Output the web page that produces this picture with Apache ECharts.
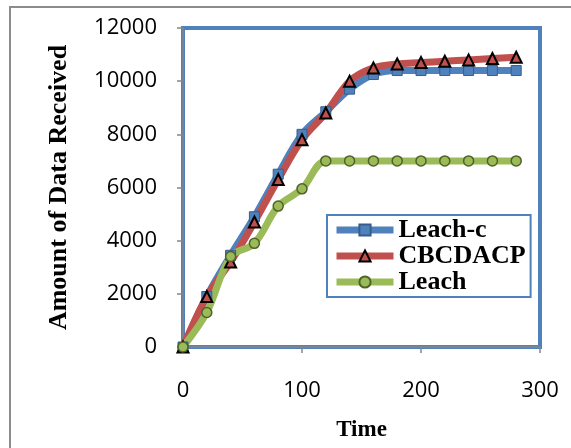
<!DOCTYPE html>
<html>
<head>
<meta charset="utf-8">
<script src="https://cdn.jsdelivr.net/npm/echarts@6/dist/echarts.min.js"></script>
<style>
  html, body { margin: 0; padding: 0; background: #fff; }
  #chart { width: 571px; height: 448px; }
</style>
</head>
<body>
<div id="chart"></div>
<script>
// values
var time = [0, 20, 40, 60, 80, 100, 120, 140, 160, 180, 200, 220, 240, 260, 280];
var leachC = [0, 1900, 3450, 4900, 6500, 8000, 8850, 9700, 10250, 10400, 10400, 10400, 10400, 10400, 10400];
var cbcdacp = [0, 1900, 3200, 4700, 6300, 7800, 8800, 10000, 10500, 10650, 10700, 10750, 10800, 10850, 10900];
var leach = [0, 1300, 3400, 3900, 5300, 5950, 7000, 7000, 7000, 7000, 7000, 7000, 7000, 7000, 7000];
var seriesNames = ["Leach-c", "CBCDACP", "Leach"];

function pairs(vals) {
  return time.map(function (t, i) { return [t, vals[i]]; });
}

var chart = echarts.init(document.getElementById("chart"));

var serif = "'Liberation Serif', 'Times New Roman', serif";
var sans = "'Open Sans', sans-serif";

chart.setOption({
  animation: false,
  graphic: [
    {
      type: "rect",
      z: -10,
      shape: { x: 10, y: 7, width: 700, height: 600 },
      style: { fill: "none", stroke: "#8c8c8c", lineWidth: 2 }
    }
  ],
  grid: {
    left: 183,
    right: 31,
    top: 28,
    bottom: 101,
    show: true,
    borderColor: "#4F81BD",
    borderWidth: 4,
    backgroundColor: "#fff"
  },
  legend: {
    orient: "vertical",
    left: 327,
    top: 215,
    padding: [2, 5, 2, 6],
    itemGap: 0,
    itemWidth: 57,
    itemHeight: 14,
    backgroundColor: "#fff",
    borderColor: "#4F81BD",
    borderWidth: 2,
    lineStyle: { width: 7 },
    textStyle: {
      fontFamily: serif,
      fontWeight: "bold",
      fontSize: 26,
      lineHeight: 25,
      color: "#000"
    },
    data: seriesNames
  },
  xAxis: {
    type: "value",
    min: 0,
    max: 300,
    interval: 100,
    name: "Time",
    nameLocation: "middle",
    nameGap: 72,
    nameTextStyle: { fontFamily: serif, fontWeight: "bold", fontSize: 23, color: "#000" },
    axisLine: { show: true, lineStyle: { color: "#868686", width: 1.5 } },
    axisTick: { show: true, length: 6, lineStyle: { color: "#868686", width: 1.5 } },
    axisLabel: { margin: 33, fontFamily: sans, fontSize: 22, color: "#000" },
    splitLine: { show: false }
  },
  yAxis: {
    type: "value",
    min: 0,
    max: 12000,
    interval: 2000,
    name: "Amount of Data Received",
    nameLocation: "middle",
    nameGap: 111,
    nameTextStyle: { fontFamily: serif, fontWeight: "bold", fontSize: 26, color: "#000" },
    axisLine: { show: true, lineStyle: { color: "#868686", width: 1.5 } },
    axisTick: { show: true, length: 6, lineStyle: { color: "#868686", width: 1.5 } },
    axisLabel: {
      margin: 26,
      fontFamily: sans,
      fontSize: 22,
      color: "#000",
      formatter: function (v) { return String(v); }
    },
    splitLine: { show: false }
  },
  series: [
    {
      name: "Leach-c",
      type: "line",
      smooth: 0.35,
      data: pairs(leachC),
      symbol: "rect",
      symbolSize: 10,
      lineStyle: { color: "#4F81BD", width: 7 },
      itemStyle: { color: "#4F81BD", borderColor: "#385D8A", borderWidth: 1 }
    },
    {
      name: "CBCDACP",
      type: "line",
      smooth: 0.35,
      data: pairs(cbcdacp),
      symbol: "triangle",
      symbolSize: 11,
      lineStyle: { color: "#C0504D", width: 7 },
      itemStyle: { color: "#C0504D", borderColor: "#000", borderWidth: 2 }
    },
    {
      name: "Leach",
      type: "line",
      smooth: 0.35,
      data: pairs(leach),
      symbol: "circle",
      symbolSize: 10,
      lineStyle: { color: "#9BBB59", width: 7 },
      itemStyle: { color: "#9BBB59", borderColor: "#4F6228", borderWidth: 1.5 }
    }
  ]
});
</script>
</body>
</html>
